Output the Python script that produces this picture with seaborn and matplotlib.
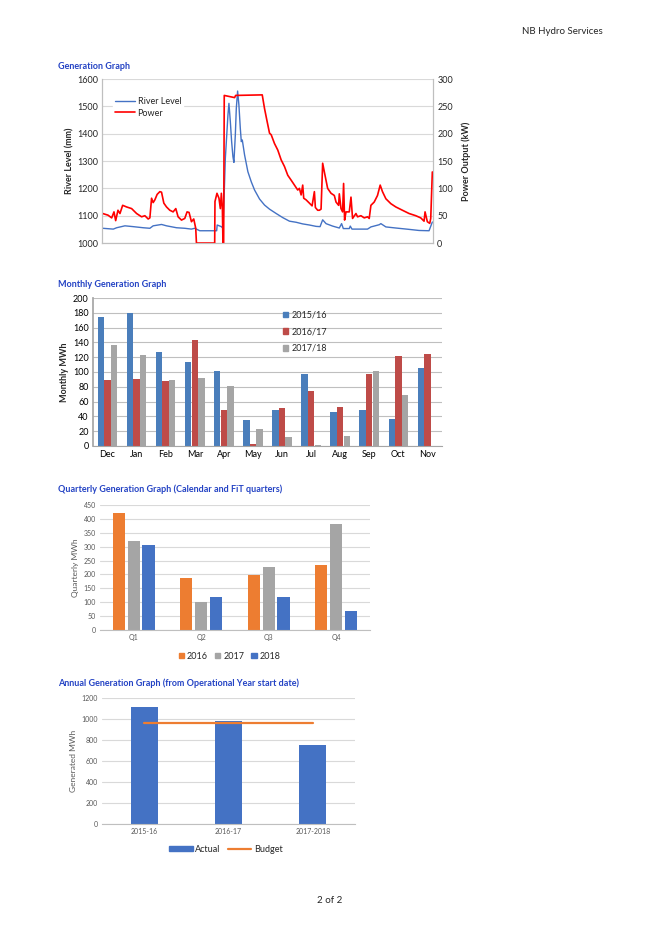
import matplotlib
matplotlib.use("Agg")
import matplotlib.pyplot as plt
import seaborn as sns
import pandas as pd
from matplotlib.patches import Patch
from matplotlib.lines import Line2D

# ---- data ----
# generation graph (day index, power kW)
power_day = [0.7, 6, 9.7, 12, 13.7, 16, 18, 20.7, 24.7, 29.7, 34.7, 39.7, 43, 46.3, 48,
             49.7, 51.3, 53, 55.3, 58, 59.7, 62, 64.7, 68, 71.3, 74, 76.3, 79.7, 83, 85.3,
             87.3, 89.7, 92, 94, 94.7, 113, 113.3, 115.3, 117.3, 118.7, 119.7, 120.7, 121.3,
             122.0, 122.6, 133, 134, 160.7, 163, 165.3, 168, 169.7, 173, 176.3, 179.7, 183,
             186.3, 189.7, 193, 196.3, 198, 199.7, 201.3, 202.3, 204.7, 208, 210.7, 213, 214,
             216.3, 218, 219.7, 221.3, 223, 226.3, 229.7, 233, 234.7, 237.3, 238, 239.7,
             241.3, 242.3, 243.3, 244.7, 248, 249.7, 251.3, 254.7, 256.3, 259.7, 263, 266.3,
             268, 269.7, 273, 276.3, 279, 281.3, 284.7, 289.7, 294.7, 301.3, 308, 314.7,
             319.7, 323, 324, 326.3, 328.7, 329.7, 331.3]
power_kw = [54, 51, 46, 57, 41, 60, 54, 69, 66, 63, 54, 48, 50, 44, 46,
            82, 74, 79, 89, 94, 93, 73, 66, 60, 57, 63, 48, 42, 45, 57,
            56, 39, 44, 27, 0, 0, 76, 91, 82, 63, 91, 66, 0,
            0, 270, 266, 270, 271, 246, 225, 201, 198, 182, 170, 152, 140,
            124, 115, 106, 97, 100, 88, 106, 82, 79, 73, 68, 94, 65,
            60, 60, 62, 146, 130, 100, 91, 87, 75, 69, 90, 63,
            57, 109, 42, 57, 57, 84, 45, 54, 48, 50, 46, 48,
            45, 69, 75, 87, 106, 94, 81, 72, 66, 60, 54, 50,
            46, 40, 57, 39, 36, 45, 130]

# generation graph (day index, river level mm)
level_day = [0.7, 11.3, 14.7, 23, 31.3, 41.3, 48, 51.3, 59.7, 64.7, 74.7, 83, 89.7, 93, 98,
             115, 115.5, 119.7, 121.3, 122.3, 123.7, 126.3, 127.3, 128.7, 130, 131.3, 132.3,
             133.7, 134.7, 136, 137.3, 138.7, 139.7, 140.7, 143, 146.3, 149.7, 153, 158, 163,
             168, 174.7, 181.3, 188, 194.7, 201.3, 208, 214.7, 218.7, 221.3, 224.7, 231.3,
             238, 240.3, 242, 248, 249, 250.7, 258, 266.3, 269.7, 278, 279.7, 284.7, 294.7,
             308, 318, 328, 331.3]
level_mm = [1054, 1051, 1056, 1063, 1060, 1056, 1054, 1063, 1068, 1063, 1056, 1054, 1051, 1054, 1045,
            1045, 1066, 1060, 1054, 1151, 1310, 1468, 1511, 1444, 1371, 1316, 1295,
            1395, 1493, 1556, 1505, 1420, 1371, 1377, 1322, 1261, 1224, 1194, 1161, 1139,
            1124, 1108, 1093, 1080, 1076, 1070, 1066, 1061, 1060, 1085, 1071, 1062,
            1055, 1071, 1053, 1053, 1062, 1051, 1051, 1051, 1059, 1067, 1071, 1059, 1055,
            1050, 1046, 1045, 1077]

# monthly generation (MWh)
months = ["Dec", "Jan", "Feb", "Mar", "Apr", "May", "Jun", "Jul", "Aug", "Sep", "Oct", "Nov"]
m_2015_16 = [174, 180, 127, 113, 102, 35, 49, 97, 46, 48, 37, 106]
m_2016_17 = [89, 91, 88, 143, 49, 2, 51, 74, 53, 97, 121, 124]
m_2017_18 = [136, 123, 89, 92, 81, 23, 12, 1, 14, 101, 69, 0]
m_years = ["2015/16", "2016/17", "2017/18"]

# quarterly generation (MWh)
quarters = ["Q1", "Q2", "Q3", "Q4"]
q_2016 = [420, 188, 199, 234]
q_2017 = [320, 102, 226, 380]
q_2018 = [305, 118, 118, 70]
q_years = ["2016", "2017", "2018"]

# annual generation (MWh)
op_years = ["2015-16", "2016-17", "2017-2018"]
actual = [1115, 985, 750]
budget = [960, 960, 960]

sns.set_theme(style="white")
plt.rcParams["font.family"] = ["Lato", "DejaVu Sans"]

title_col = "#2443C4"
grid_col = "#D9D9D9"

fig = plt.figure(figsize=(6.59, 9.33), dpi=100)
fig.text(0.915, 0.966, "NB Hydro Services", ha="right", va="center", fontsize=7)
fig.text(0.5, 0.035, "2 of 2", ha="center", va="center", fontsize=7)


def style_axes(ax, tick_col="black", size=6.5):
    ax.tick_params(axis="both", length=0, labelsize=size, colors=tick_col, pad=3)
    for s in ["top", "right"]:
        ax.spines[s].set_visible(False)
    ax.spines["left"].set_visible(False)
    ax.spines["bottom"].set_color("#BFBFBF")
    ax.spines["bottom"].set_linewidth(0.8)
    ax.yaxis.grid(True, color=grid_col, linewidth=0.8)
    ax.set_axisbelow(True)


# ---- generation graph ----
ax1 = fig.add_axes([0.1548, 0.7395, 0.5023, 0.1758])
ax2 = ax1.twinx()
sns.lineplot(x=level_day, y=level_mm, ax=ax1, color="#4472C4", linewidth=1.0,
             sort=False, estimator=None)
sns.lineplot(x=power_day, y=power_kw, ax=ax2, color="#FF0000", linewidth=1.2,
             sort=False, estimator=None)
ax1.set_xlim(0, 332)
ax1.set_ylim(1000, 1600)
ax2.set_ylim(0, 300)
ax1.set_yticks(range(1000, 1601, 100))
ax2.set_yticks(range(0, 301, 50))
ax1.set_xticks([])
ax1.yaxis.grid(True, color=grid_col, linewidth=0.8)
ax1.set_axisbelow(True)
for a in (ax1, ax2):
    a.tick_params(axis="y", length=0, labelsize=6.5, pad=3)
    a.spines["top"].set_visible(False)
    for s in ["left", "right", "bottom"]:
        a.spines[s].set_color("#BFBFBF")
        a.spines[s].set_linewidth(0.8)
ax1.set_ylabel("River Level (mm)", fontsize=6.5, fontweight="bold", labelpad=2)
ax2.set_ylabel("Power Output (kW)", fontsize=6.5, fontweight="bold", labelpad=6)
leg = ax2.legend(handles=[Line2D([], [], color="#4472C4", lw=1.0),
                          Line2D([], [], color="#FF0000", lw=1.2)],
                 labels=["River Level", "Power"], loc="upper left",
                 bbox_to_anchor=(0.02, 0.93), frameon=True, fontsize=6.5,
                 handlelength=2.2, borderpad=0.2, labelspacing=0.3, handletextpad=0.3)
leg.get_frame().set_edgecolor("white")
leg.get_frame().set_facecolor("white")
leg.get_frame().set_alpha(1)
fig.text(0.088, 0.929, "Generation Graph", color=title_col, fontsize=6.5,
         fontweight="bold", va="center")

# ---- monthly generation graph ----
monthly = pd.DataFrame({
    "month": months * 3,
    "mwh": m_2015_16 + m_2016_17 + m_2017_18,
    "year": [m_years[0]] * 12 + [m_years[1]] * 12 + [m_years[2]] * 12,
})
m_cols = ["#4A7EBB", "#BE4B48", "#A5A5A5"]
ax3 = fig.add_axes([0.1411, 0.5220, 0.5296, 0.1586])
sns.barplot(data=monthly, x="month", y="mwh", hue="year", palette=m_cols,
            width=0.68, gap=0.03, saturation=1, linewidth=0, ax=ax3, legend=False)
style_axes(ax3)
ax3.yaxis.grid(True, color="#BFBFBF", linewidth=0.8)
ax3.spines["left"].set_visible(True)
ax3.spines["left"].set_color("#A6A6A6")
ax3.spines["bottom"].set_color("#A6A6A6")
ax3.set_ylim(0, 200)
ax3.set_yticks(range(0, 201, 20))
ax3.set_xlim(-0.5, 11.5)
ax3.set_xlabel("")
ax3.set_ylabel("Monthly MWh", fontsize=6.5, fontweight="bold", labelpad=3)
ax3.legend(handles=[Patch(color=c) for c in m_cols], labels=m_years,
           loc="upper left", bbox_to_anchor=(0.52, 0.97), frameon=False,
           fontsize=6.5, handlelength=0.6, handleheight=0.6, handletextpad=0.4,
           labelspacing=0.85)
fig.text(0.088, 0.695, "Monthly Generation Graph", color=title_col, fontsize=6.5,
         fontweight="bold", va="center")

# ---- quarterly generation graph ----
quarterly = pd.DataFrame({
    "quarter": quarters * 3,
    "mwh": q_2016 + q_2017 + q_2018,
    "year": [q_years[0]] * 4 + [q_years[1]] * 4 + [q_years[2]] * 4,
})
q_cols = ["#ED7D31", "#A5A5A5", "#4472C4"]
ax4 = fig.add_axes([0.1517, 0.3248, 0.4097, 0.134])
sns.barplot(data=quarterly, x="quarter", y="mwh", hue="year", palette=q_cols,
            width=0.66, gap=0.18, saturation=1, linewidth=0, ax=ax4, legend=False)
style_axes(ax4, tick_col="#595959", size=5)
ax4.set_ylim(0, 450)
ax4.set_yticks(range(0, 451, 50))
ax4.set_xlim(-0.5, 3.5)
ax4.set_xlabel("")
ax4.set_ylabel("Quarterly MWh", fontsize=6, color="#595959", labelpad=3)
ax4.legend(handles=[Patch(color=c) for c in q_cols], labels=q_years,
           loc="center", bbox_to_anchor=(0.48, -0.21), ncol=3, frameon=False,
           fontsize=6.5, handlelength=0.6, handleheight=0.6, handletextpad=0.3,
           columnspacing=0.8)
fig.text(0.088, 0.476, "Quarterly Generation Graph (Calendar and FiT quarters)",
         color=title_col, fontsize=6.5, fontweight="bold", va="center")

# ---- annual generation graph ----
annual = pd.DataFrame({"year": op_years, "actual": actual, "budget": budget})
ax5 = fig.add_axes([0.1548, 0.1168, 0.3839, 0.135])
sns.barplot(data=annual, x="year", y="actual", color="#4472C4", width=0.32,
            saturation=1, linewidth=0, ax=ax5)
sns.lineplot(data=annual, x="year", y="budget", color="#ED7D31", linewidth=1.6,
             ax=ax5, sort=False)
style_axes(ax5, tick_col="#595959", size=5)
ax5.set_ylim(0, 1200)
ax5.set_yticks(range(0, 1201, 200))
ax5.set_xlim(-0.5, 2.5)
ax5.set_xlabel("")
ax5.set_ylabel("Generated MWh", fontsize=6, color="#595959", labelpad=3)
ax5.legend(handles=[Patch(color="#4472C4"), Line2D([], [], color="#ED7D31", lw=1.6)],
           labels=["Actual", "Budget"], loc="center", bbox_to_anchor=(0.49, -0.2),
           ncol=2, frameon=False, fontsize=6.5, handlelength=2.6, handleheight=0.6,
           handletextpad=0.3, columnspacing=0.8)
fig.text(0.088, 0.268, "Annual Generation Graph (from Operational Year start date)",
         color=title_col, fontsize=6.5, fontweight="bold", va="center")

fig.savefig("out.png", dpi=100)
